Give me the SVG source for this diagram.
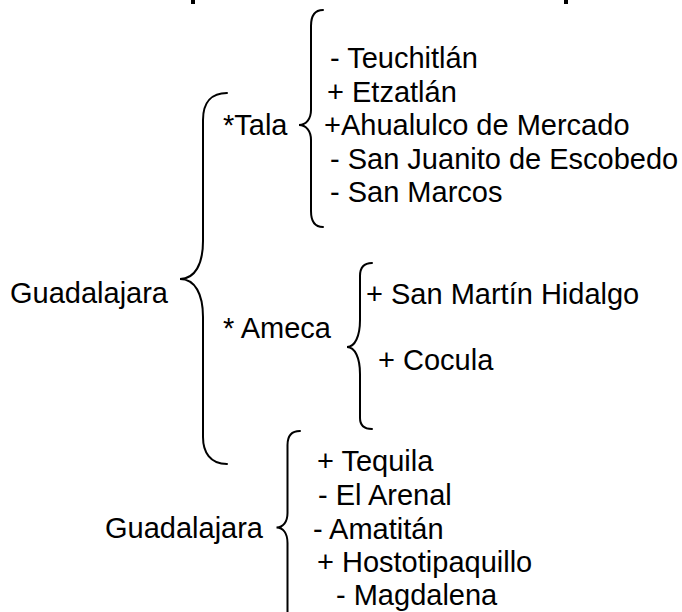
<svg xmlns="http://www.w3.org/2000/svg" width="682" height="612" viewBox="0 0 682 612">
<style>
text{font-family:"Liberation Sans",Arial,sans-serif;font-size:29px;fill:#000}
.br{fill:none;stroke:#000;stroke-width:2;stroke-linecap:round}
</style>
<rect width="682" height="612" fill="#fff"/>
<g id="title-marks">
<rect x="191" y="0" width="4" height="4" fill="#000"/>
<rect x="564" y="0" width="4" height="4" fill="#000"/>
</g>
<g id="connectors">
<path class="br" d="M227,93 C212,93 203,102 203,120 L203,241 C203,264 195,279 180,279 C195,279 203,294 203,317 L203,437 C203,452 210,464 227,464"/>
<path class="br" d="M323,10 C315,10 311,16 311,26 L311,110 C311,119 306,125 299,125 C306,125 311,131 311,140 L311,211 C311,221 315,227 323,227"/>
<path class="br" d="M372,263 C364,263 360,268 360,276 L360,320 C360,336 355,347 347,347 C355,347 360,358 360,374 L360,418 C360,425 364,429 372,429"/>
<path class="br" d="M300,431 C292,431 287.5,436 287.5,445 L287.5,513 C287.5,522 283,527.5 276.5,527.5 C283,527.5 287.5,533 287.5,543 L287.5,620"/>
</g>
<g id="n-guadalajara1"><text x="10" y="303">Guadalajara</text></g>
<g id="n-tala"><text x="223" y="135">*Tala</text></g>
<g id="n-tala-list">
<text x="330" y="68">- Teuchitlán</text>
<text x="327" y="102">+ Etzatlán</text>
<text x="324" y="135">+Ahualulco de Mercado</text>
<text x="330" y="169">- San Juanito de Escobedo</text>
<text x="330" y="202">- San Marcos</text>
</g>
<g id="n-ameca"><text x="223" y="338">* Ameca</text></g>
<g id="n-ameca-list">
<text x="366" y="304">+ San Martín Hidalgo</text>
<text x="378" y="370">+ Cocula</text>
</g>
<g id="n-guadalajara2"><text x="105" y="538">Guadalajara</text></g>
<g id="n-g2-list">
<text x="317" y="471">+ Tequila</text>
<text x="318" y="505">- El Arenal</text>
<text x="313" y="539">- Amatitán</text>
<text x="317" y="572">+ Hostotipaquillo</text>
<text x="336" y="605">- Magdalena</text>
</g>
</svg>
